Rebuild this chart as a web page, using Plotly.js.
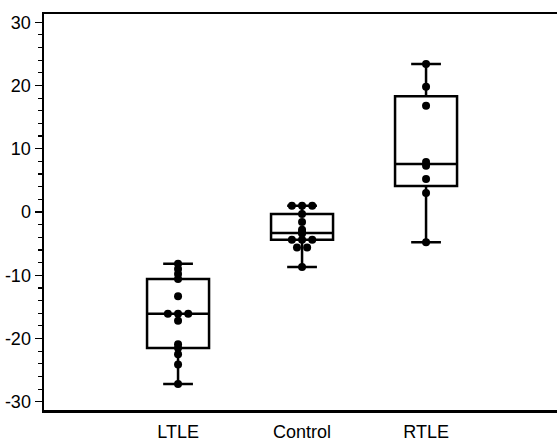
<!DOCTYPE html>
<html>
<head>
<meta charset="utf-8">
<script src="https://cdn.plot.ly/plotly-3.0.1.min.js"></script>
<style>html,body{margin:0;padding:0;background:#fff;}#chart{width:557px;height:442px;}</style>
</head>
<body>
<div id="chart"></div>
<script>
const categories = ["LTLE", "Control", "RTLE"];
const ltle = [-8.2, -9.0, -9.8, -10.6, -13.3, -16.1, -16.1, -16.1, -17.2, -20.9, -21.5, -22.5, -24.1, -27.2];
const control = [1.0, 1.0, 1.0, -0.3, -1.6, -2.8, -3.2, -3.4, -4.4, -4.4, -4.4, -5.6, -5.6, -8.7];
const rtle = [23.4, 19.8, 16.8, 7.9, 7.3, 5.2, 3.0, -4.8];
const yTicks = [-30, -20, -10, 0, 10, 20, 30];
const yTickText = ["-30", "-20", "-10", "0", "10", "20", "30"];

const groups = [ltle, control, rtle];
const spread = 0.082;

const traces = [];
groups.forEach(function (vals, gi) {
  traces.push({
    type: "box",
    y: vals,
    x: vals.map(function () { return gi; }),
    boxpoints: false,
    quartilemethod: "exclusive",
    width: 0.5,
    whiskerwidth: 0.48,
    fillcolor: "rgba(0,0,0,0)",
    line: { color: "#000", width: 2.5 },
    hoverinfo: "skip",
    showlegend: false
  });
  const counts = {};
  vals.forEach(function (v) { counts[v] = (counts[v] || 0) + 1; });
  const seen = {};
  const xs = vals.map(function (v) {
    const k = counts[v];
    const i = seen[v] || 0;
    seen[v] = i + 1;
    return gi + (i - (k - 1) / 2) * spread;
  });
  traces.push({
    type: "scatter",
    mode: "markers",
    x: xs,
    y: vals,
    marker: { color: "#000", size: 8 },
    hoverinfo: "skip",
    showlegend: false
  });
});

const layout = {
  width: 557,
  height: 442,
  margin: { l: 44, r: 0, t: 14, b: 32 },
  paper_bgcolor: "#fff",
  plot_bgcolor: "#fff",
  font: { family: "Arial, 'Liberation Sans', Helvetica, sans-serif", size: 18, color: "#000" },
  showlegend: false,
  xaxis: {
    range: [-1.081, 3.056],
    tickvals: [0, 1, 2],
    ticktext: categories,
    ticks: "",
    ticklabelstandoff: 4,
    showline: true,
    mirror: true,
    linecolor: "#000",
    linewidth: 2.5,
    showgrid: false,
    zeroline: false,
    tickfont: { size: 18 }
  },
  yaxis: {
    range: [-31.3, 31.3],
    tickvals: yTicks,
    ticktext: yTickText,
    ticks: "outside",
    ticklen: 7,
    tickwidth: 1.2,
    tickcolor: "#000",
    minor: { dtick: 2, tick0: 0, ticks: "outside", ticklen: 4, tickwidth: 1.2, tickcolor: "#000", showgrid: false },
    showline: true,
    linecolor: "#000",
    linewidth: 2.5,
    showgrid: false,
    zeroline: false,
    tickfont: { size: 18 }
  }
};

Plotly.newPlot("chart", traces, layout, { displayModeBar: false, staticPlot: true });
</script>
</body>
</html>
